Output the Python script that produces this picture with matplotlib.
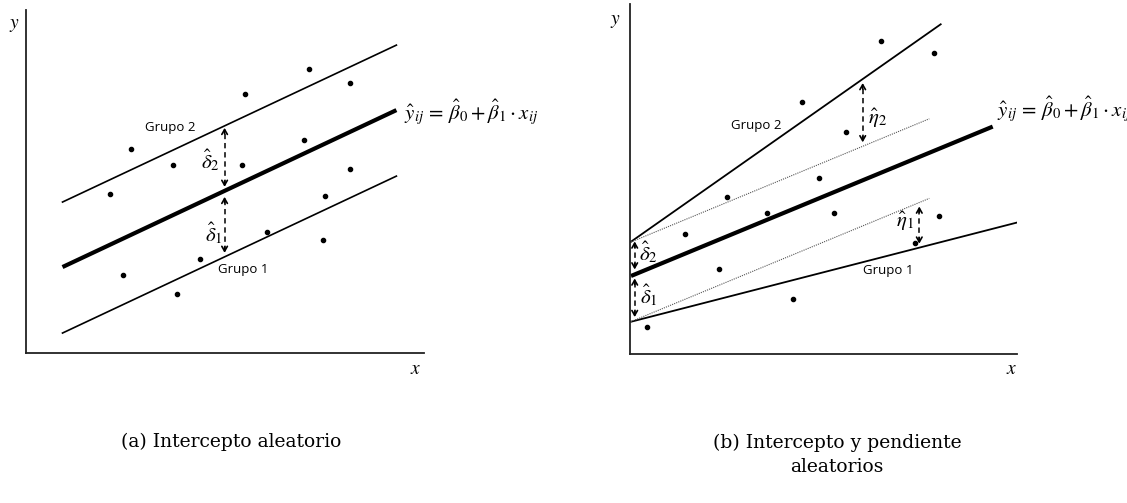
import numpy as np
import matplotlib
matplotlib.use("Agg")
import matplotlib.pyplot as plt

plt.rcParams['mathtext.fontset'] = 'stix'

# panel (a): random intercept
a_px = [105.4, 146.5, 83.6, 219.0, 282.6, 324.4, 277.6, 215.8, 324.4, 298.6, 241.1, 297.2, 174.0, 96.5, 150.8]
a_py = [203.7, 187.7, 159.0, 259.0, 284.3, 270.3, 213.0, 187.7, 184.3, 157.3, 121.0, 112.7, 93.7, 77.7, 58.7]
a_beta0 = 68.8
a_beta1 = 0.47
a_delta = [-66.0, 65.0]          # Grupo 1, Grupo 2
a_xrange = [36.5, 370.4]
a_arrow_x = 198.6

# panel (b): random intercept and slope
b_px = [172.0, 251.3, 304.0, 216.0, 189.0, 96.7, 136.7, 55.0, 89.3, 163.0, 17.0, 204.0, 309.3, 285.0]
b_py = [252.3, 312.7, 301.0, 221.7, 176.0, 157.3, 141.0, 119.7, 84.7, 54.7, 27.3, 141.0, 138.0, 110.7]
b_beta0 = 77.6
b_beta1 = 0.413
b_delta = [-45.6, 34.0]          # Grupo 1, Grupo 2
b_eta = [-0.156, 0.289]
b_x0 = 1.0
b_xend_fixed = 362.7
b_xend_groups = [390.0, 310.7]
b_xend_dotted = 299.3
b_delta_x = 4.7
b_eta_x = [289.3, 232.7]

captions = ["(a) Intercepto aleatorio", "(b) Intercepto y pendiente\naleatorios"]
equation = r'$\hat{y}_{ij}\,=\,\hat{\beta}_0+\hat{\beta}_1\cdot x_{ij}$'

W, H = 1127, 503
fig = plt.figure(figsize=(W / 100, H / 100), dpi=100)


def make_axes(left, bottom, right, top):
    ax = fig.add_axes([left / W, 1 - bottom / H, (right - left) / W, (bottom - top) / H])
    ax.set_xlim(0, right - left)
    ax.set_ylim(0, bottom - top)
    for s in ['top', 'right']:
        ax.spines[s].set_visible(False)
    for s in ['left', 'bottom']:
        ax.spines[s].set_linewidth(1.3)
        ax.spines[s].set_color('#222222')
    ax.set_xticks([])
    ax.set_yticks([])
    ax.patch.set_alpha(0)
    return ax


def dashed_arrow(ax, x, y_lo, y_hi):
    ax.plot([x, x], [y_lo + 2, y_hi - 2], color='black', lw=1.1, ls=(0, (3.5, 2.5)))
    hp = dict(arrowstyle='->,head_length=0.35,head_width=0.2', color='black', lw=1.2,
              shrinkA=0, shrinkB=0)
    ax.annotate('', xy=(x, y_hi), xytext=(x, y_hi - 6), arrowprops=hp)
    ax.annotate('', xy=(x, y_lo), xytext=(x, y_lo + 6), arrowprops=hp)


# ---------- panel (a)
ax = make_axes(26, 353, 424, 10)
xs = np.array(a_xrange)
ax.plot(xs, a_beta0 + a_beta1 * xs, color='black', lw=3.0, solid_capstyle='butt')
for d in a_delta:
    ax.plot(xs, a_beta0 + d + a_beta1 * xs, color='black', lw=1.2)
ax.plot(a_px, a_py, 'o', color='black', ms=3, ls='none')

ym = a_beta0 + a_beta1 * a_arrow_x
dashed_arrow(ax, a_arrow_x, ym + 4, ym + a_delta[1] - 2)
dashed_arrow(ax, a_arrow_x, ym + a_delta[0] + 4, ym - 6)

ax.text(184.7, 193, r'$\hat{\delta}_2$', fontsize=15, ha='center', va='center')
ax.text(188, 120, r'$\hat{\delta}_1$', fontsize=15, ha='center', va='center')
ax.text(144.7, 226, 'Grupo 2', fontsize=9.5, family='Open Sans', ha='center', va='center')
ax.text(216.9, 84, 'Grupo 1', fontsize=9.5, family='Open Sans', ha='center', va='center')
ax.text(377.6, 240, equation, fontsize=15, ha='left', va='center')
ax.text(-12, 328, r'$y$', fontsize=14, ha='center', va='center')
ax.text(390, -15, r'$x$', fontsize=14, ha='center', va='center')

# ---------- panel (b)
bx = make_axes(630, 354, 1017, 4)
xf = np.array([b_x0, b_xend_fixed])
bx.plot(xf, b_beta0 + b_beta1 * xf, color='black', lw=3.0, solid_capstyle='butt')
xd = np.array([b_x0, b_xend_dotted])
for d, eta, xe in zip(b_delta, b_eta, b_xend_groups):
    xg = np.array([b_x0, xe])
    bx.plot(xg, b_beta0 + d + (b_beta1 + eta) * xg, color='black', lw=1.3)
    bx.plot(xd, b_beta0 + d + b_beta1 * xd, color='#555555', lw=0.8, ls=(0, (1, 1)))
bx.plot(b_px, b_py, 'o', color='black', ms=3, ls='none')

y0 = b_beta0 + b_beta1 * b_delta_x
dashed_arrow(bx, b_delta_x, y0 + 5, y0 + b_delta[1] - 1)
dashed_arrow(bx, b_delta_x, y0 + b_delta[0] + 3, y0 - 4)
for d, eta, xa in zip(b_delta, b_eta, b_eta_x):
    y_dot = b_beta0 + d + b_beta1 * xa
    y_grp = b_beta0 + d + (b_beta1 + eta) * xa
    dashed_arrow(bx, xa, min(y_dot, y_grp) + 4, max(y_dot, y_grp) - 4)

bx.text(18.3, 102.3, r'$\hat{\delta}_2$', fontsize=15, ha='center', va='center')
bx.text(19.3, 59, r'$\hat{\delta}_1$', fontsize=15, ha='center', va='center')
bx.text(248, 236, r'$\hat{\eta}_2$', fontsize=15, ha='center', va='center')
bx.text(275, 132.3, r'$\hat{\eta}_1$', fontsize=15, ha='center', va='center')
bx.text(126.7, 229, 'Grupo 2', fontsize=9.5, family='Open Sans', ha='center', va='center')
bx.text(258.3, 83.3, 'Grupo 1', fontsize=9.5, family='Open Sans', ha='center', va='center')
bx.text(366.7, 244, equation, fontsize=15, ha='left', va='center')
bx.text(-15, 334, r'$y$', fontsize=14, ha='center', va='center')
bx.text(382, -14, r'$x$', fontsize=14, ha='center', va='center')

# captions
fig.text(231 / W, 1 - 442 / H, captions[0], fontsize=13.5, family='DejaVu Serif',
         ha='center', va='center')
fig.text(837 / W, 1 - 455 / H, captions[1], fontsize=13.5, family='DejaVu Serif',
         ha='center', va='center', linespacing=1.45)

fig.savefig('out.png', dpi=100)
